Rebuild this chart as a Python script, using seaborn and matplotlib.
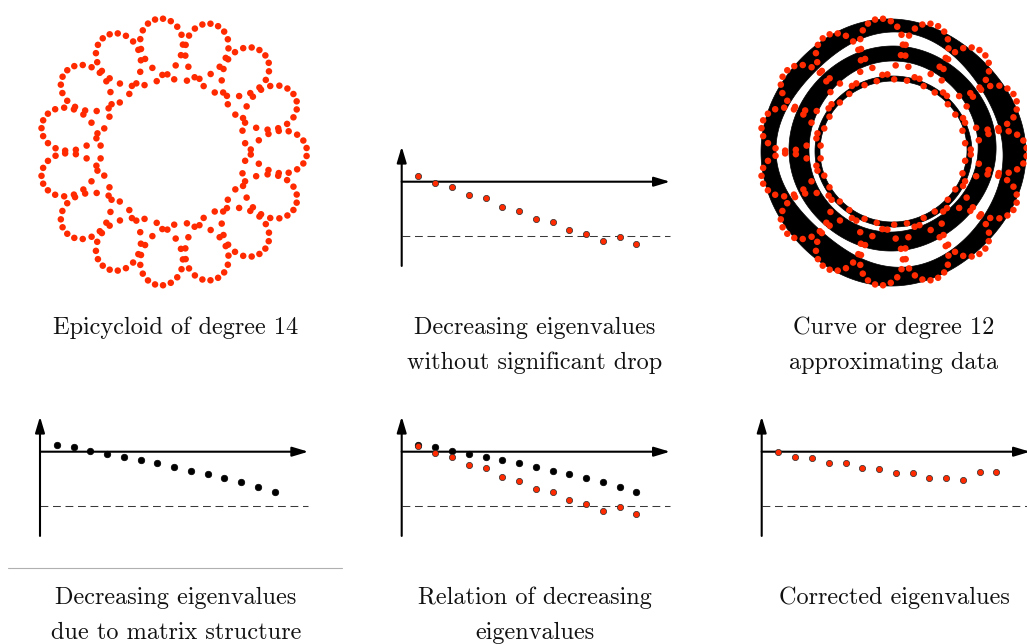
import numpy as np
import pandas as pd
import matplotlib
matplotlib.use("Agg")
import matplotlib.pyplot as plt
import seaborn as sns
from matplotlib.path import Path
from matplotlib.patches import PathPatch
from matplotlib.lines import Line2D

# ---------------------------------------------------------------- data
# eigenvalue panels (index 1..14, threshold drawn dashed)
eig_index = np.arange(1, 15)
eig_observed = [0.11, -0.03, -0.09, -0.25, -0.31, -0.46, -0.54,
                -0.69, -0.75, -0.90, -0.97, -1.10, -1.03, -1.15]
eig_structural = [0.13, 0.08, 0.02, -0.04, -0.09, -0.15, -0.21,
                  -0.28, -0.35, -0.41, -0.49, -0.57, -0.65, -0.75]
eig_corrected = [-0.01, -0.09, -0.11, -0.20, -0.21, -0.31, -0.32,
                 -0.40, -0.40, -0.48, -0.48, -0.53, -0.37, -0.38]
threshold = -1.0

# epicycloid sample: loops, carrier radius, loop half-axes, number of samples
epi_loops = 15
epi_main_radius = 103.0
epi_radial_amp = 31.0
epi_tangential_amp = 32.0
epi_samples = 270

# zero set of the fitted degree-12 curve: three bands, inner/outer radius
# sampled every 45 degrees starting at the positive x axis
ring_outer_in = [110, 110, 120, 112, 117, 107, 115, 112]
ring_outer_out = [133, 128, 133, 131, 132, 131, 134, 130]
ring_mid_in = [85, 88, 91, 87, 84, 82, 80, 80]
ring_mid_out = [103, 104, 106, 104, 104, 100, 99, 98]
ring_inner_in = [74, 73, 71, 72, 73, 71, 70, 71]
ring_inner_out = [79, 77, 76, 77, 78, 76, 75, 77]

captions = [
    ("Epicycloid of degree 14", None),
    ("Decreasing eigenvalues", "without significant drop"),
    ("Curve or degree 12", "approximating data"),
    ("Decreasing eigenvalues", "due to matrix structure"),
    ("Relation of decreasing", "eigenvalues"),
    ("Corrected eigenvalues", None),
]

# ---------------------------------------------------------------- style
sns.set_theme(style="white")
plt.rcParams["font.family"] = ["cmr10", "DejaVu Serif"]
plt.rcParams["mathtext.fontset"] = "cm"
plt.rcParams["axes.formatter.use_mathtext"] = True

RED = "#ff2a00"
W, H = 1027, 644
fig = plt.figure(figsize=(W / 100, H / 100), dpi=100)
fig.patch.set_facecolor("white")


def add_px_axes(left, top, width, height):
    return fig.add_axes([left / W, 1 - (top + height) / H, width / W, height / H])


# ---------------------------------------------------------------- eigen panels
SX = 268.3 / 16.0   # pixels per index step
SY = 54.0           # pixels per unit
HEAD = "-|>,head_length=0.8,head_width=0.24"


def eigen_axes(x0, y0):
    xlim, ylim = (-1.0, 17.0), (-1.8, 0.8)
    ax = add_px_axes(x0 + xlim[0] * SX, y0 - ylim[1] * SY,
                     (xlim[1] - xlim[0]) * SX, (ylim[1] - ylim[0]) * SY)
    ax.set_xlim(xlim)
    ax.set_ylim(ylim)
    ax.plot([0, 16], [threshold, threshold], color="#3a3a3a", lw=0.75,
            ls=(0, (7.5, 4.5)), clip_on=False, zorder=1)
    for tip, tail in [((16, 0), (0, 0)), ((0, 0.65), (0, -1.56))]:
        ax.annotate("", xy=tip, xytext=tail, annotation_clip=False,
                    arrowprops=dict(arrowstyle=HEAD, lw=1.5, color="black",
                                    mutation_scale=12, shrinkA=0, shrinkB=0),
                    zorder=2)
    return ax


def dots(ax, values, color, edge, size):
    df = pd.DataFrame({"index": eig_index, "value": values})
    sns.scatterplot(data=df, x="index", y="value", ax=ax, color=color,
                    edgecolor=edge, linewidth=0.5, s=size, legend=False,
                    clip_on=False, zorder=5)


def finish(ax):
    ax.set_xlabel("")
    ax.set_ylabel("")
    ax.axis("off")


# top middle: observed eigenvalues
ax = eigen_axes(401.7, 181.7)
dots(ax, eig_observed, RED, "#2a2a2a", 20)
finish(ax)

# bottom left: structural eigenvalues
ax = eigen_axes(40.0, 451.7)
dots(ax, eig_structural, "black", "black", 22)
finish(ax)

# bottom middle: both
ax = eigen_axes(401.7, 451.7)
dots(ax, eig_structural, "black", "black", 22)
dots(ax, eig_observed, RED, "#2a2a2a", 20)
finish(ax)

# bottom right: corrected
ax = eigen_axes(761.7, 451.7)
dots(ax, eig_corrected, RED, "#2a2a2a", 20)
finish(ax)

# ---------------------------------------------------------------- epicycloid panels
# carrier circle plus an elliptic loop turning against it, one loop per 24 deg
t = 2 * np.pi * (np.arange(epi_samples) + 0.5) / epi_samples
phi = -epi_loops * t
loop = epi_radial_amp * np.cos(phi) + 1j * epi_tangential_amp * np.sin(phi)
z = np.exp(1j * t) * (epi_main_radius + loop)
epi = pd.DataFrame({"x": z.real, "y": z.imag})


def closed_radius(samples, theta):
    samples = np.asarray(samples, dtype=float)
    n = len(samples)
    c = np.fft.rfft(samples) / n
    r = np.full_like(theta, c[0].real)
    for k in range(1, len(c)):
        w = 1.0 if (n % 2 == 0 and k == n // 2) else 2.0
        r += w * (c[k].real * np.cos(k * theta) - c[k].imag * np.sin(k * theta))
    return r


def round_axes(cx, cy, half=145):
    ax = add_px_axes(cx - half, cy - half, 2 * half, 2 * half)
    ax.set_xlim(-half, half)
    ax.set_ylim(-half, half)
    return ax


# top left: epicycloid sample
ax = round_axes(173, 152)
sns.scatterplot(data=epi, x="x", y="y", ax=ax, color=RED, edgecolor="none",
                s=22, legend=False, zorder=5)
finish(ax)

# top right: fitted curve with the same sample
ax = round_axes(893, 152)
theta = np.linspace(0, 2 * np.pi, 721)
for r_in, r_out in [(ring_outer_in, ring_outer_out),
                    (ring_mid_in, ring_mid_out),
                    (ring_inner_in, ring_inner_out)]:
    ro = closed_radius(r_out, theta)
    ri = closed_radius(r_in, theta)
    outer = np.column_stack([ro * np.cos(theta), ro * np.sin(theta)])
    inner = np.column_stack([ri * np.cos(theta), ri * np.sin(theta)])[::-1]
    band = Path.make_compound_path(Path(outer, closed=True), Path(inner, closed=True))
    ax.add_patch(PathPatch(band, facecolor="black", edgecolor="black", lw=0.5, zorder=2))
sns.scatterplot(data=epi, x="x", y="y", ax=ax, color=RED, edgecolor="none",
                s=22, legend=False, zorder=5)
finish(ax)

# ---------------------------------------------------------------- captions
col_x = [176, 535, 894]
row_y = [(328, 363), (598, 633)]
for i, (l1, l2) in enumerate(captions):
    cx = col_x[i % 3]
    y1, y2 = row_y[i // 3]
    fig.text(cx / W, 1 - y1 / H, l1, ha="center", va="center", fontsize=17.5, color="#111111")
    if l2:
        fig.text(cx / W, 1 - y2 / H, l2, ha="center", va="center", fontsize=17.5, color="#111111")

fig.add_artist(Line2D([8 / W, 342 / W], [1 - 568 / H, 1 - 568 / H],
                      color="#b0b0b0", lw=0.8))

fig.savefig("out.png", dpi=100)
